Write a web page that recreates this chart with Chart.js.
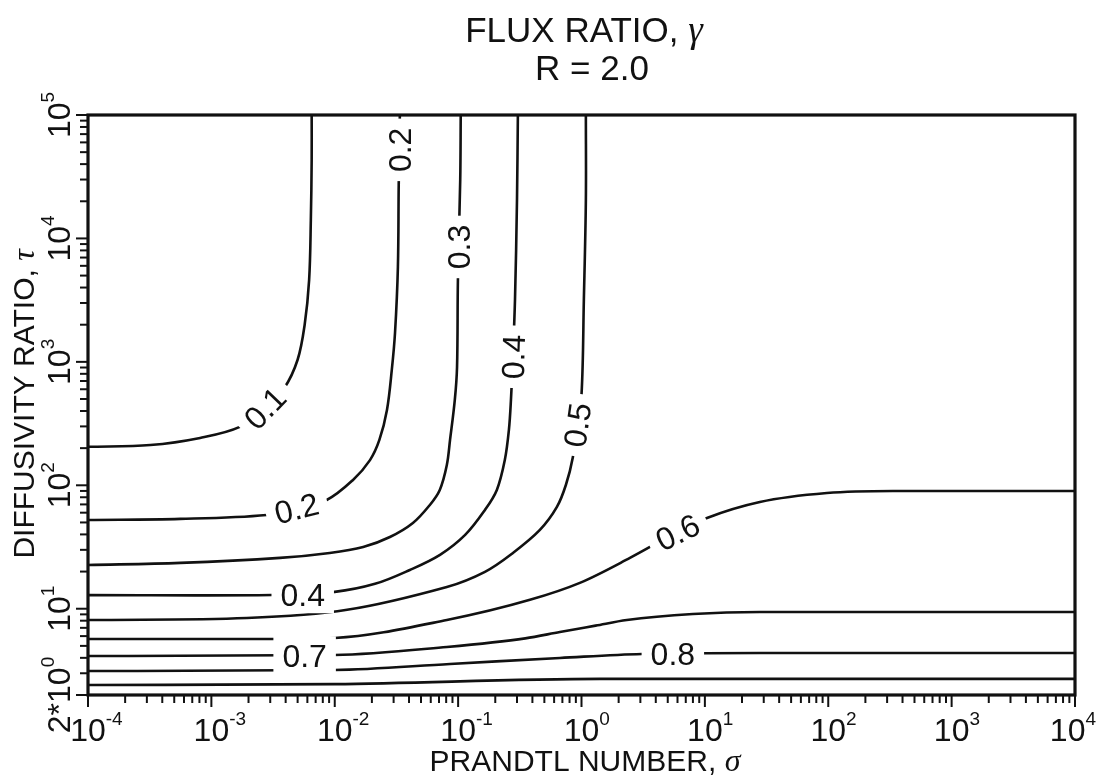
<!DOCTYPE html>
<html lang="en">
<head>
<meta charset="UTF-8" />
<title>Flux ratio, R = 2.0</title>
<style>
    html, body {
        margin: 0;
        padding: 0;
        background: #ffffff;
    }
    #wrap {
        width: 1098px;
        height: 780px;
    }
</style>
</head>
<body>
<div id="wrap"><canvas id="fluxChart" width="1098" height="780"></canvas></div>
<script src="https://cdn.jsdelivr.net/npm/chart.js"></script>
<script>
// Contours of gamma: Prandtl number (sigma) vs diffusivity ratio (tau)
const g01Sigma = [1e-4, 3.2e-4, 8.1e-4, 1.7e-3, 2.7e-3, 3.9e-3, 5.0e-3, 5.7e-3, 6.2e-3, 6.4e-3, 6.5e-3, 6.5e-3];
const g01Tau   = [205, 212, 242, 297, 424, 615, 1040, 1990, 4610, 14100, 43300, 1e5];

const g02Sigma = [1e-4, 5.6e-4, 2.8e-3, 4.9e-3, 8.6e-3, 1.4e-2, 1.93e-2, 2.3e-2, 2.65e-2, 2.9e-2, 3.08e-2, 3.25e-2, 3.3e-2, 3.37e-2];
const g02Tau   = [52.4, 53.4, 57.5, 65.5, 76, 110, 160, 233, 408, 861, 1720, 5880, 27200, 1e5];

const g03Sigma = [1e-4, 5.6e-4, 3.6e-3, 9.1e-3, 1.7e-2, 2.8e-2, 4.3e-2, 5.9e-2, 7.1e-2, 8.1e-2, 8.6e-2, 9.4e-2, 9.8e-2, 0.0996, 0.104, 0.105];
const g03Tau   = [22.6, 23.5, 25.8, 28.3, 31.6, 38.1, 49.5, 69.3, 91.7, 146, 233, 492, 910, 4610, 29800, 1e5];

const g04Sigma = [1e-4, 3.1e-3, 1.0e-2, 2.12e-2, 4.06e-2, 7.13e-2, 0.114, 0.165, 0.206, 0.239, 0.258, 0.268, 0.278, 0.289, 0.30, 0.305];
const g04Tau   = [12.9, 12.9, 13.7, 15.9, 20.6, 27.3, 39.6, 63.1, 91.7, 160, 281, 492, 1100, 3180, 20500, 1e5];

const g05Sigma = [1e-4, 1.94e-3, 1.26e-2, 8.1e-2, 0.165, 0.278, 0.46, 0.632, 0.748, 0.851, 0.918, 1.0, 1.045, 1.085, 1.085];
const g05Tau   = [8.1, 8.4, 9.8, 15, 19.9, 28.3, 43.5, 66.8, 101, 169, 308, 540, 3180, 20500, 1e5];

const g06Sigma = [1e-4, 3.3e-3, 1.0e-2, 8.1e-2, 0.382, 0.97, 2.47, 6.0, 10.4, 27.9, 97.5, 334, 1e4];
const g06Tau   = [5.69, 5.69, 5.8, 8.1, 11.8, 16.2, 25.8, 41.9, 54.4, 73.3, 86.7, 90, 90];

const g07Sigma = [1e-4, 1.0e-2, 8.1e-2, 0.35, 0.668, 1.3, 2.33, 8.0, 27.9, 1e4];
const g07Tau   = [4.14, 4.22, 4.9, 5.75, 6.48, 7.3, 8.1, 9.06, 9.41, 9.41];

const g08Sigma = [1e-4, 1.0e-2, 8.6e-2, 0.668, 3.08, 27.9, 1e4];
const g08Tau   = [3.13, 3.19, 3.57, 3.99, 4.30, 4.38, 4.38];

const g09Sigma = [1e-4, 1.0e-2, 1.41, 1e4];
const g09Tau   = [2.41, 2.45, 2.70, 2.70];

// in-line contour labels
const labelText  = ['0.1', '0.2', '0.2', '0.3', '0.4', '0.4', '0.5', '0.6', '0.7', '0.8'];
const labelSigma = [2.7e-3, 3.33e-2, 4.9e-3, 0.101, 0.278, 5.5e-3, 0.92, 6.0, 5.7e-3, 5.5];
const labelTau   = [424, 52200, 65.5, 8530, 1100, 13.1, 308, 41.9, 4.19, 4.33];
const labelAngle = [-46, -90, -14, -90, -88, 0, -82, -26, 0, 0];

// axis ticks
const xMajorTicks = [1e-4, 1e-3, 1e-2, 1e-1, 1, 10, 100, 1e3, 1e4];
const xMajorExp   = ['-4', '-3', '-2', '-1', '0', '1', '2', '3', '4'];
const yMajorTicks = [2, 10, 100, 1e3, 1e4, 1e5];
const yMajorBase  = ['2*10', '10', '10', '10', '10', '10'];
const yMajorExp   = ['0', '1', '2', '3', '4', '5'];
const yDecades    = [1, 10, 100, 1e3, 1e4];
const minorSteps  = [2, 3, 4, 5, 6, 7, 8, 9];

const INK = '#111111';
const SANS = '"Liberation Sans", Arial, sans-serif';
const SERIF = '"Liberation Serif", "Times New Roman", serif';
const TICK_SIZE = 32;
const EXP_SIZE = 19;

const contours = [
    { sigma: g01Sigma, tau: g01Tau, smooth: 'default' },
    { sigma: g02Sigma, tau: g02Tau, smooth: 'default' },
    { sigma: g03Sigma, tau: g03Tau, smooth: 'default' },
    { sigma: g04Sigma, tau: g04Tau, smooth: 'default' },
    { sigma: g05Sigma, tau: g05Tau, smooth: 'default' },
    { sigma: g06Sigma, tau: g06Tau, smooth: 'monotone' },
    { sigma: g07Sigma, tau: g07Tau, smooth: 'monotone' },
    { sigma: g08Sigma, tau: g08Tau, smooth: 'monotone' },
    { sigma: g09Sigma, tau: g09Tau, smooth: 'monotone' }
];

const datasets = contours.map(c => ({
    data: c.sigma.map((s, i) => ({ x: s, y: c.tau[i] })),
    showLine: true,
    borderColor: INK,
    borderWidth: 2.6,
    pointRadius: 0,
    fill: false,
    tension: 0.35,
    cubicInterpolationMode: c.smooth
}));

// draws a string followed by a raised exponent, starting at (x, y)
function drawPower(ctx, base, exp, x, y) {
    ctx.textAlign = 'left';
    ctx.font = TICK_SIZE + 'px ' + SANS;
    ctx.fillText(base, x, y);
    const wb = ctx.measureText(base).width;
    ctx.font = EXP_SIZE + 'px ' + SANS;
    ctx.fillText(exp, x + wb, y - 16);
}

function powerWidth(ctx, base, exp) {
    ctx.font = TICK_SIZE + 'px ' + SANS;
    const wb = ctx.measureText(base).width;
    ctx.font = EXP_SIZE + 'px ' + SANS;
    return { base: wb, total: wb + ctx.measureText(exp).width };
}

// plain text followed by an italic greek letter, centred at x
function drawTitle(ctx, text, greek, size, cx, y) {
    ctx.textAlign = 'left';
    ctx.font = size + 'px ' + SANS;
    const w1 = ctx.measureText(text).width;
    ctx.font = 'italic ' + (size + 2) + 'px ' + SERIF;
    const w2 = ctx.measureText(greek).width;
    const x0 = cx - (w1 + w2) / 2;
    ctx.font = size + 'px ' + SANS;
    ctx.fillText(text, x0, y);
    ctx.font = 'italic ' + (size + 2) + 'px ' + SERIF;
    ctx.fillText(greek, x0 + w1, y);
}

const frameAndText = {
    id: 'frameAndText',
    afterDatasetsDraw(chart) {
        const { ctx, chartArea: a } = chart;
        const xs = chart.scales.x;
        const ys = chart.scales.y;
        ctx.save();
        ctx.fillStyle = INK;
        ctx.strokeStyle = INK;

        // contour labels sit in a white box that breaks the lines
        ctx.font = '32px ' + SANS;
        labelText.forEach((t, i) => {
            const px = xs.getPixelForValue(labelSigma[i]);
            const py = ys.getPixelForValue(labelTau[i]);
            const w = ctx.measureText(t).width + 18;
            ctx.save();
            ctx.translate(px, py);
            ctx.rotate(labelAngle[i] * Math.PI / 180);
            ctx.fillStyle = '#ffffff';
            ctx.fillRect(-w / 2, -19, w, 38);
            ctx.fillStyle = INK;
            ctx.textAlign = 'center';
            ctx.textBaseline = 'alphabetic';
            ctx.fillText(t, 0, 11.5);
            ctx.restore();
        });

        // plot frame
        ctx.lineWidth = 3.2;
        ctx.strokeRect(a.left, a.top, a.right - a.left, a.bottom - a.top);

        // tick marks
        const line = (x1, y1, x2, y2) => {
            ctx.beginPath();
            ctx.moveTo(x1, y1);
            ctx.lineTo(x2, y2);
            ctx.stroke();
        };
        ctx.lineWidth = 2;
        xMajorTicks.forEach(v => {
            const p = xs.getPixelForValue(v);
            line(p, a.bottom, p, a.bottom + 12);
        });
        xMajorTicks.slice(0, -1).forEach(d => minorSteps.forEach(m => {
            const p = xs.getPixelForValue(d * m);
            line(p, a.bottom, p, a.bottom + 8);
        }));
        yMajorTicks.forEach(v => {
            const p = ys.getPixelForValue(v);
            line(a.left, p, a.left - 12, p);
        });
        yDecades.forEach(d => minorSteps.forEach(m => {
            const p = ys.getPixelForValue(d * m);
            line(a.left, p, a.left - 8, p);
        }));

        // x tick labels: "10" centred on the tick, kept inside the canvas
        ctx.textBaseline = 'alphabetic';
        xMajorTicks.forEach((v, i) => {
            const p = xs.getPixelForValue(v);
            const w = powerWidth(ctx, '10', xMajorExp[i]);
            const x0 = Math.min(p - w.base / 2, chart.width - 2 - w.total);
            drawPower(ctx, '10', xMajorExp[i], x0, 741);
        });

        // y tick labels, turned to read upwards
        yMajorTicks.forEach((v, i) => {
            const p = ys.getPixelForValue(v);
            const w = powerWidth(ctx, yMajorBase[i], yMajorExp[i]);
            ctx.save();
            ctx.translate(70, p);
            ctx.rotate(-Math.PI / 2);
            drawPower(ctx, yMajorBase[i], yMajorExp[i], -w.total / 2, 0);
            ctx.restore();
        });

        // axis titles
        drawTitle(ctx, 'PRANDTL NUMBER, ', 'σ', 30, 585, 771);
        ctx.save();
        ctx.translate(34, 404);
        ctx.rotate(-Math.PI / 2);
        drawTitle(ctx, 'DIFFUSIVITY RATIO, ', 'τ', 30, 0, 0);
        ctx.restore();

        // chart title
        drawTitle(ctx, 'FLUX RATIO, ', 'γ', 35, 584, 42);
        ctx.font = '35px ' + SANS;
        ctx.textAlign = 'center';
        ctx.fillText('R = 2.0', 592, 80);

        ctx.restore();
    }
};

new Chart(document.getElementById('fluxChart'), {
    type: 'scatter',
    data: { datasets: datasets },
    options: {
        responsive: false,
        animation: false,
        events: [],
        layout: { padding: { top: 115, right: 23, left: 0, bottom: 0 } },
        plugins: {
            legend: { display: false },
            tooltip: { enabled: false },
            title: { display: false }
        },
        scales: {
            x: {
                type: 'logarithmic',
                min: 1e-4,
                max: 1e4,
                position: 'bottom',
                ticks: { display: false },
                grid: { display: false },
                border: { display: false },
                afterFit: s => { s.height = 85; }
            },
            y: {
                type: 'logarithmic',
                min: 2,
                max: 1e5,
                position: 'left',
                ticks: { display: false },
                grid: { display: false },
                border: { display: false },
                afterFit: s => { s.width = 88; }
            }
        }
    },
    plugins: [frameAndText]
});
</script>
</body>
</html>
